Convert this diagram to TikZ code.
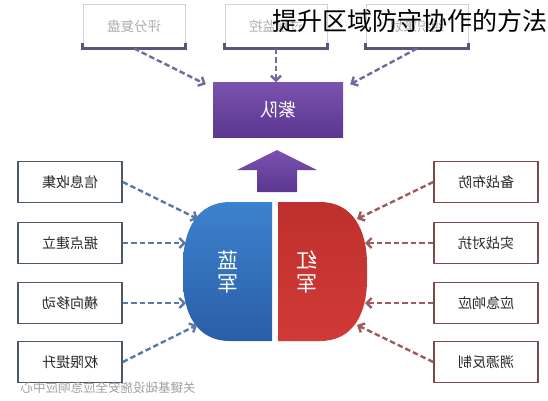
\documentclass[tikz,border=0pt]{standalone}
\usepackage{fontspec}
\setmainfont{Noto Sans CJK SC}
\usetikzlibrary{positioning,arrows.meta}

\definecolor{bluetop}{HTML}{3D82CF}
\definecolor{bluebot}{HTML}{2A5EA6}
\definecolor{redtop}{HTML}{BE302D}
\definecolor{redbot}{HTML}{D13A36}
\definecolor{purtop}{HTML}{7B52AE}
\definecolor{purbot}{HTML}{5A3790}
\definecolor{bluearr}{HTML}{5B78A6}
\definecolor{redarr}{HTML}{A05A5E}
\definecolor{purarr}{HTML}{76689A}
\definecolor{blueline}{HTML}{4A5868}
\definecolor{redline}{HTML}{7A4A4C}

\tikzset{
  mirror/.style={xscale=-1},
  topbox/.style={draw=gray!35, fill=white, line width=1pt, minimum width=102pt,
    minimum height=44pt, text=gray!65, font=\fontsize{13.5}{13.5}\selectfont, mirror},
  sidebox/.style={fill=white, line width=1.6pt, minimum width=104pt,
    minimum height=41pt, text=black!85, font=\fontsize{14}{14}\selectfont, mirror},
  arr/.style={line width=2.4pt, dash pattern=on 5.5pt off 3pt,
    -{Straight Barb[length=5pt,width=10pt]}},
}

\begin{document}
\begin{tikzpicture}[x=1pt,y=-1pt]
  \useasboundingbox (0,0) rectangle (548,400);

  % top row (purple team tasks), text is mirrored so west/east swap
  \node[topbox] (t1) at (134,26) {评分复盘};
  \node[topbox] (t2) at (276,26) {过程监控};
  \node[topbox] (t3) at (417,26) {组织策划};
  \foreach \t in {t1,t2,t3}
    \draw[line width=2.4pt, purarr!80!black]
      ([yshift=6pt]\t.south west) -- (\t.south west) -- (\t.south east) -- ([yshift=6pt]\t.south east);

  % purple team
  \node[mirror, top color=purtop, bottom color=purbot, text=white,
    minimum width=130pt, minimum height=55pt,
    font=\fontsize{18}{18}\selectfont] (zi) at (278,110) {紫队};

  \draw[arr, purarr] (t1.south) -- ([xshift=-7pt,yshift=-2pt]zi.north east);
  \draw[arr, purarr] (t2.south) -- (t2.south |- zi.north);
  \draw[arr, purarr] (t3.south) -- ([xshift=7pt,yshift=-2pt]zi.north west);

  % big arrow up
  \path[top color=purtop, bottom color=purbot]
    (257,192) -- (257,170) -- (237,170) -- (277,150) -- (317,170)
    -- (297,170) -- (297,192) -- cycle;

  % blue half
  \path[top color=bluetop, bottom color=bluebot]
    (272,202) -- (230,202) .. controls (197,202) and (183,230) .. (183,265)
    -- (183,279) .. controls (183,314) and (197,341) .. (230,341) -- (272,341) -- cycle;
  % red half
  \path[top color=redtop, bottom color=redbot]
    (278,202) -- (320,202) .. controls (353,202) and (367,230) .. (367,265)
    -- (367,279) .. controls (367,314) and (353,341) .. (320,341) -- (278,341) -- cycle;

  \node[mirror, text=white, align=center, font=\fontsize{21}{23}\selectfont] (lan) at (228,272) {蓝\\军};
  \node[mirror, text=white, align=center, font=\fontsize{21}{23}\selectfont] (hong) at (307,272) {红\\军};

  % arrow ends on the two halves
  \coordinate (b1) at (198,219);
  \coordinate (b2) at (186,243);
  \coordinate (b3) at (186,303);
  \coordinate (b4) at (197,325);
  \coordinate (r1) at (357,219);
  \coordinate (r2) at (365,243);
  \coordinate (r3) at (365,303);
  \coordinate (r4) at (357,325);

  % blue side steps
  \node[sidebox, draw=blueline] (l1) at (70,182) {信息收集};
  \node[sidebox, draw=blueline] (l2) at (70,243) {据点建立};
  \node[sidebox, draw=blueline] (l3) at (70,303) {横向移动};
  \node[sidebox, draw=blueline] (l4) at (70,362) {权限提升};

  % red side steps
  \node[sidebox, draw=redline] (s1) at (486,182) {备战布防};
  \node[sidebox, draw=redline] (s2) at (486,243) {实战对抗};
  \node[sidebox, draw=redline] (s3) at (486,303) {应急响应};
  \node[sidebox, draw=redline] (s4) at (486,362) {溯源反制};

  \foreach \i in {1,...,4} {
    \draw[arr, bluearr] (l\i.west) -- (b\i);
    \draw[arr, redarr] (s\i.east) -- (r\i);
  }

  % footer
  \node[mirror, text=gray!75, font=\fontsize{12.5}{12.5}\selectfont] (foot) at (108,388) {关键基础设施安全应急响应中心};

  % title
  \node[anchor=east, inner sep=0pt, font=\fontsize{25}{25}\selectfont] (title) at (548,21) {提升区域防守协作的方法};
\end{tikzpicture}
\end{document}
